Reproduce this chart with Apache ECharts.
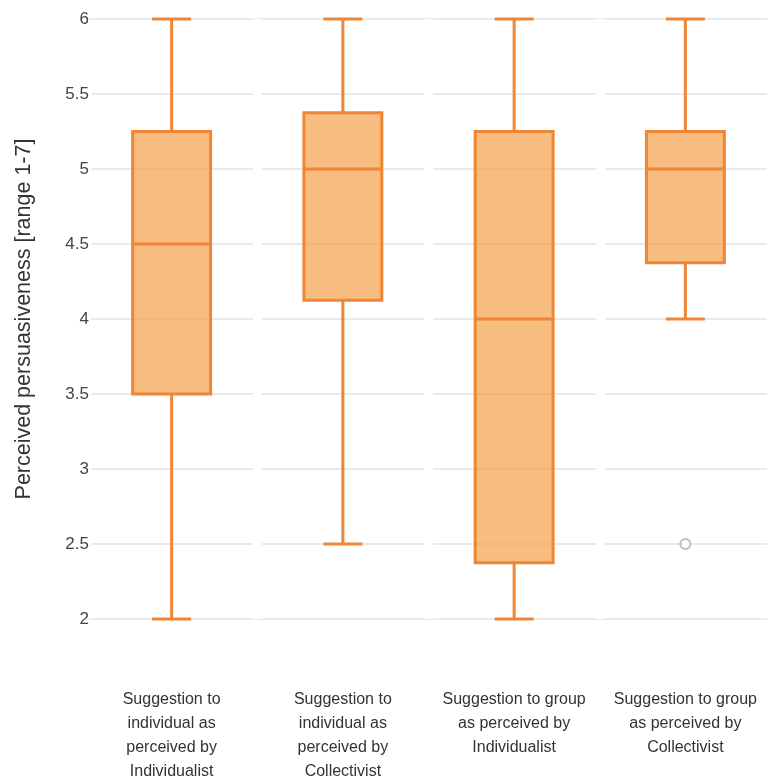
<!DOCTYPE html>
<html><head><meta charset="utf-8">
<script src="https://cdn.jsdelivr.net/npm/echarts@6/dist/echarts.min.js"></script>
<style>html,body{margin:0;padding:0;background:#fff}#c{width:768px;height:778px}</style>
</head><body><div id="c"></div>
<script>
var categories = [
  "Suggestion to\nindividual as\nperceived by\nIndividualist",
  "Suggestion to\nindividual as\nperceived by\nCollectivist",
  "Suggestion to group\nas perceived by\nIndividualist",
  "Suggestion to group\nas perceived by\nCollectivist"
];
var mins    = [2,    2.5,   2,     4];
var q1s     = [3.5,  4.125, 2.375, 4.375];
var medians = [4.5,  5,     4,     5];
var q3s     = [5.25, 5.375, 5.25,  5.25];
var maxs    = [6,    6,     6,     6];
var outliers = [[3, 2.5]];
var yMin = 2, yMax = 6, yStep = 0.5;

var boxData = categories.map(function(c, i){ return [i, mins[i], q1s[i], medians[i], q3s[i], maxs[i]]; });

var chart = echarts.init(document.getElementById('c'));
var stroke = '#ef8535', fill = 'rgba(243,160,72,0.7)';
var ff = 'Liberation Sans, Arial, sans-serif';
chart.setOption({
  animation: false,
  grid: {left: 86, top: 19, width: 685, height: 600, containLabel: false, outerBoundsMode: 'none'},
  xAxis: {
    type: 'category', data: categories, boundaryGap: true,
    axisLine: {show: false}, axisTick: {show: false},
    splitLine: {show: true, lineStyle: {color: '#fff', width: 9}},
    z: 5,
    axisLabel: {interval: 0, margin: 69, verticalAlign: 'top', color: '#333', fontSize: 16,
      fontFamily: ff, lineHeight: 24, align: 'center'}
  },
  yAxis: [{
    type: 'value', min: yMin, max: yMax, interval: yStep, z: 8,
    name: 'Perceived persuasiveness [range 1-7]', nameLocation: 'middle', nameGap: 51,
    nameTextStyle: {color: '#333', fontSize: 21.5, fontFamily: ff},
    axisLine: {show: false}, axisTick: {show: false},
    axisLabel: {color: '#444', fontSize: 17, margin: -3, fontFamily: ff},
    splitLine: {show: false}
  }, {
    type: 'value', min: yMin, max: yMax, interval: yStep, z: 1, position: 'left',
    axisLine: {show: false}, axisTick: {show: false}, axisLabel: {show: false},
    splitLine: {show: true, lineStyle: {color: '#e3e3e3', width: 1.5}}
  }],
  series: [{
    type: 'custom', data: boxData, z: 10, yAxisIndex: 0,
    encode: {x: 0, y: [1,2,3,4,5]},
    renderItem: function(params, api){
      var x = api.value(0);
      var pMin = api.coord([x, api.value(1)]);
      var pQ1 = api.coord([x, api.value(2)]);
      var pMed = api.coord([x, api.value(3)]);
      var pQ3 = api.coord([x, api.value(4)]);
      var pMax = api.coord([x, api.value(5)]);
      var bw = api.size([1, 0])[0] * 0.455;
      var cx = pMed[0], hw = bw / 2, cw = bw / 4;
      var ls = {stroke: stroke, lineWidth: 3, fill: null};
      return {type: 'group', children: [
        {type: 'line', shape: {x1: cx, y1: pMax[1], x2: cx, y2: pQ3[1]}, style: ls},
        {type: 'line', shape: {x1: cx, y1: pMin[1], x2: cx, y2: pQ1[1]}, style: ls},
        {type: 'line', shape: {x1: cx - cw, y1: pMax[1], x2: cx + cw, y2: pMax[1]}, style: ls},
        {type: 'line', shape: {x1: cx - cw, y1: pMin[1], x2: cx + cw, y2: pMin[1]}, style: ls},
        {type: 'rect', shape: {x: cx - hw, y: pQ3[1], width: bw, height: pQ1[1] - pQ3[1]},
          style: {fill: fill, stroke: stroke, lineWidth: 3}},
        {type: 'line', shape: {x1: cx - hw, y1: pMed[1], x2: cx + hw, y2: pMed[1]}, style: ls}
      ]};
    }
  }, {
    type: 'scatter', data: outliers, symbol: 'circle', symbolSize: 10, z: 10, yAxisIndex: 0,
    itemStyle: {color: '#fff', borderColor: '#aaa', borderWidth: 2}
  }]
});
</script></body></html>
